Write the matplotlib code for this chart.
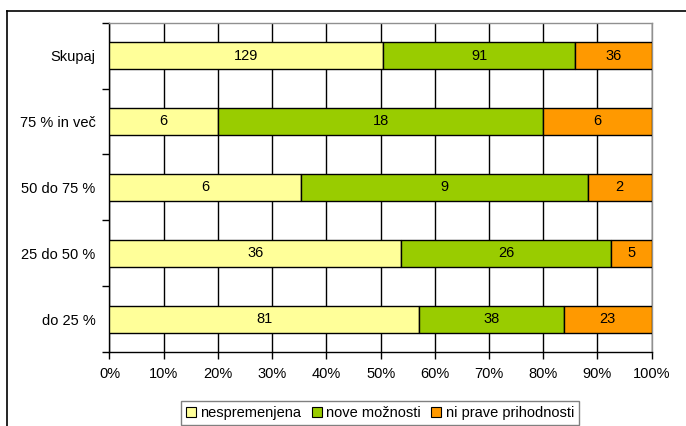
import numpy as np
import matplotlib.pyplot as plt
from matplotlib.lines import Line2D
from matplotlib.patches import Patch

plt.rcParams['font.family'] = ['Liberation Sans', 'DejaVu Sans']
plt.rcParams['font.size'] = 10.5

categories = ['do 25 %', '25 do 50 %', '50 do 75 %', '75 % in več', 'Skupaj']
series_names = ['nespremenjena', 'nove možnosti', 'ni prave prihodnosti']
nespremenjena = [81, 36, 6, 6, 129]
nove_moznosti = [38, 26, 9, 18, 91]
ni_prave = [23, 5, 2, 6, 36]
colors = ['#FFFF99', '#99CC00', '#FF9900']

counts = np.array([nespremenjena, nove_moznosti, ni_prave], dtype=float)
shares = counts / counts.sum(axis=0) * 100

fig = plt.figure(figsize=(6.86, 4.26), dpi=100)
ax = fig.add_axes([0.1596, 0.1737, 0.7904, 0.773])

y = np.arange(len(categories))
left = np.zeros(len(categories))
for i in range(3):
    bars = ax.barh(y, shares[i], left=left, height=0.41, color=colors[i],
                   edgecolor='black', linewidth=1.0, zorder=3)
    ax.bar_label(bars, labels=[str(int(v)) for v in counts[i]],
                 label_type='center', fontsize=10.5, color='black')
    left += shares[i]

ax.set_xlim(0, 100)
ax.set_ylim(-0.5, len(categories) - 0.5)
ax.set_xticks(np.arange(0, 101, 10))
ax.set_xticklabels([f'{v}%' for v in range(0, 101, 10)])
ax.set_yticks(y)
ax.set_yticklabels(categories)
ax.tick_params(axis='y', length=0, pad=10)
ax.set_yticks(np.arange(-0.5, len(categories), 1), minor=True)
ax.tick_params(axis='y', which='minor', length=5, width=1, direction='out')
ax.tick_params(axis='x', length=5, width=1, direction='out', pad=6)
ax.grid(axis='x', color='black', linewidth=1.0, zorder=0)
ax.set_axisbelow(True)

for s in ['left', 'bottom']:
    ax.spines[s].set_color('black')
    ax.spines[s].set_linewidth(1.0)
for s in ['right', 'top']:
    ax.spines[s].set_color('#909090')
    ax.spines[s].set_linewidth(1.0)

handles = [Patch(facecolor=c, edgecolor='black', linewidth=0.8) for c in colors]
fig.legend(handles, series_names, loc='upper center',
           bbox_to_anchor=(0.554, 0.0587), ncol=3, frameon=True,
           fancybox=False, edgecolor='#808080', framealpha=1,
           handlelength=0.7, handleheight=0.7, handletextpad=0.3,
           columnspacing=0.7, borderpad=0.35, borderaxespad=0,
           fontsize=10.5)

# outer chart frame
fig.add_artist(Line2D([0.0106, 1.0], [0.975, 0.975], color='black', linewidth=1.2))
fig.add_artist(Line2D([0.0106, 0.0106], [0.0, 0.975], color='black', linewidth=1.2))

fig.savefig('out.png', dpi=100)
